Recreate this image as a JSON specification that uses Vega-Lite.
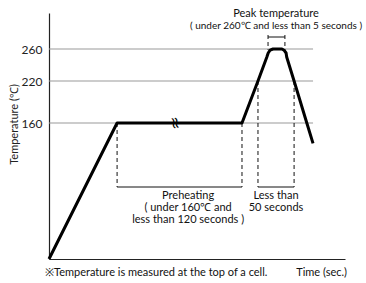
{
  "$schema": "https://vega.github.io/schema/vega-lite/v6.json",
  "width": 296,
  "height": 246,
  "autosize": "none",
  "padding": {"left": 49, "top": 13, "right": 21, "bottom": 24},
  "background": "white",
  "config": {"view": {"stroke": null}, "font": "Lato", "text": {"font": "Lato", "fontSize": 11, "color": "#111"}},
  "datasets": {
    "profile": [
      {"t": 0, "T": 0},
      {"t": 23.0, "T": 160},
      {"t": 65.2, "T": 160},
      {"t": 70.6, "T": 220},
      {"t": 73.6, "T": 250},
      {"t": 74.05, "T": 255},
      {"t": 74.7, "T": 258.5},
      {"t": 75.7, "T": 260},
      {"t": 78.7, "T": 260},
      {"t": 79.4, "T": 258.5},
      {"t": 80.1, "T": 255},
      {"t": 80.3, "T": 250},
      {"t": 82.8, "T": 220},
      {"t": 87.1, "T": 160},
      {"t": 89.2, "T": 136}
    ],
    "grid": [
      {"t": 0, "t2": 89.2, "T": 160},
      {"t": 0, "t2": 89.2, "T": 220},
      {"t": 0, "t2": 89.2, "T": 260}
    ],
    "vdash": [
      {"t": 23.0, "T": 160, "T2": 84.7},
      {"t": 65.2, "T": 160, "T2": 84.7},
      {"t": 70.6, "T": 220, "T2": 84.7},
      {"t": 82.8, "T": 220, "T2": 84.7},
      {"t": 74.0, "T": 277.5, "T2": 259},
      {"t": 79.7, "T": 277.5, "T2": 259}
    ],
    "hbr": [
      {"t": 23.0, "t2": 65.2, "T": 84.7},
      {"t": 70.6, "t2": 82.8, "T": 84.7},
      {"t": 74.0, "t2": 79.7, "T": 275}
    ],
    "brk": [{"t": 42.6, "T": 160, "label": "≈"}],
    "labels": [
      {"t": 76.7, "T": 300, "label": "Peak temperature"},
      {"t": 47.0, "T": 70.6, "label": "Preheating"},
      {"t": 47.0, "T": 56.5, "label": "( under 160℃ and"},
      {"t": 47.0, "T": 42.4, "label": "less than 120 seconds )"},
      {"t": 76.7, "T": 70.6, "label": "Less than"},
      {"t": 76.7, "T": 56.5, "label": "50 seconds"}
    ],
    "peak2": [{"t": 76.7, "T": 285, "label": "( under 260℃ and less than 5 seconds )"}],
    "note": [{"t": -1.35, "T": -20, "label": "※Temperature is measured at the top of a cell."}],
    "xt": [{"t": 100.7, "T": -20, "label": "Time (sec.)"}]
  },
  "encoding": {
    "x": {"field": "t", "type": "quantitative", "title": null,
      "scale": {"domain": [0, 100], "nice": false, "zero": false},
      "axis": {"labels": false, "ticks": false, "grid": false, "title": null, "domainColor": "#222", "domainWidth": 1.2}},
    "y": {"field": "T", "type": "quantitative", "title": "Temperature (℃)",
      "scale": {"domain": [0, 160, 220, 260, 305], "range": [246, 110, 68, 36, 0], "nice": false, "zero": false},
      "axis": {"values": [160, 220, 260], "ticks": false, "grid": false, "labelPadding": 7, "labelFontSize": 12, "labelColor": "#222", "labelFont": "Lato",
        "domainColor": "#222", "domainWidth": 1.2, "title": "Temperature (℃)", "titleFont": "Lato", "titleFontSize": 11, "titleFontWeight": "normal", "titleColor": "#222",
        "titleX": -35, "titleY": 111, "titleBaseline": "middle", "titleAlign": "center", "titleAngle": -90}}
  },
  "layer": [
    {"data": {"name": "grid"}, "mark": {"type": "rule", "color": "#999", "strokeWidth": 1}, "encoding": {"x2": {"field": "t2"}}},
    {"data": {"name": "vdash"}, "mark": {"type": "rule", "color": "#111", "strokeWidth": 1, "strokeDash": [4, 3]}, "encoding": {"y2": {"field": "T2"}}},
    {"data": {"name": "hbr"}, "mark": {"type": "rule", "color": "#111", "strokeWidth": 1}, "encoding": {"x2": {"field": "t2"}}},
    {"data": {"name": "profile"}, "mark": {"type": "line", "color": "#000", "strokeWidth": 3, "strokeJoin": "round", "strokeCap": "butt"}, "encoding": {}},
    {"data": {"name": "brk"}, "mark": {"type": "text", "angle": 80, "fontSize": 16, "font": "DejaVu Sans", "align": "center", "baseline": "middle", "color": "#000"}, "encoding": {"text": {"field": "label"}}},
    {"data": {"name": "labels"}, "mark": {"type": "text", "align": "center", "baseline": "alphabetic"}, "encoding": {"text": {"field": "label"}}},
    {"data": {"name": "peak2"}, "mark": {"type": "text", "align": "center", "baseline": "alphabetic", "fontSize": 10}, "encoding": {"text": {"field": "label"}}},
    {"data": {"name": "note"}, "mark": {"type": "text", "align": "left", "baseline": "alphabetic"}, "encoding": {"text": {"field": "label"}}},
    {"data": {"name": "xt"}, "mark": {"type": "text", "align": "right", "baseline": "alphabetic"}, "encoding": {"text": {"field": "label"}}}
  ]
}
